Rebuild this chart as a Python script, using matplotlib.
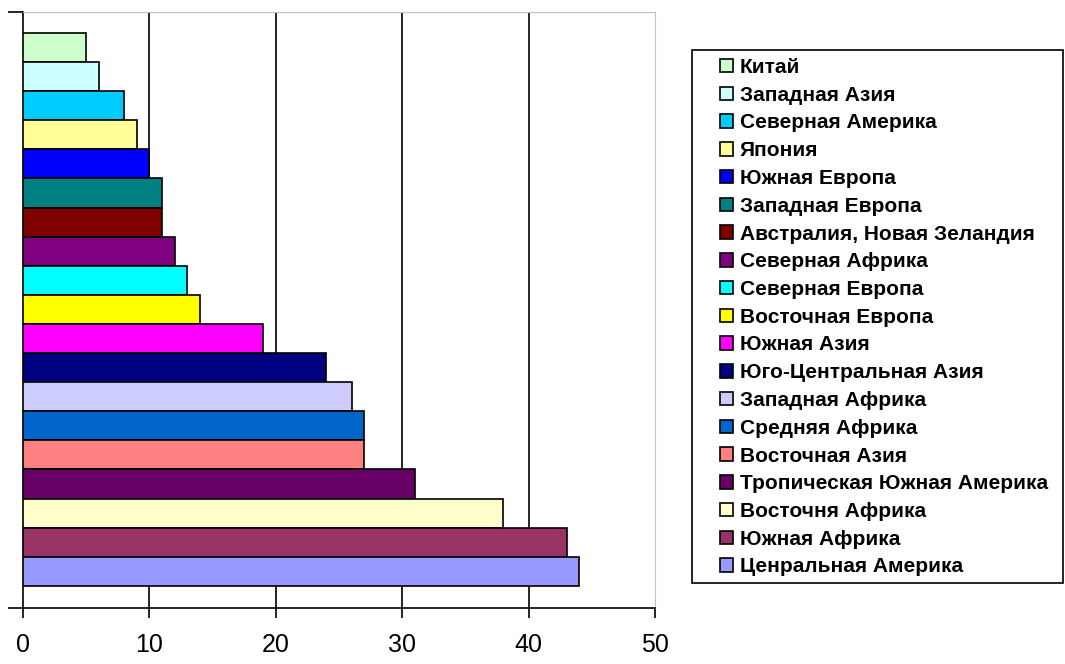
import matplotlib.pyplot as plt
from matplotlib.patches import Patch, Rectangle

plt.rcParams['font.family'] = ['Liberation Sans', 'DejaVu Sans']

# top to bottom, as in the legend
regions = ['Китай', 'Западная Азия', 'Северная Америка', 'Япония', 'Южная Европа',
           'Западная Европа', 'Австралия, Новая Зеландия', 'Северная Африка',
           'Северная Европа', 'Восточная Европа', 'Южная Азия', 'Юго-Центральная Азия',
           'Западная Африка', 'Средняя Африка', 'Восточная Азия',
           'Тропическая Южная Америка', 'Восточня Африка', 'Южная Африка',
           'Ценральная Америка']
values = [5, 6, 8, 9, 10, 11, 11, 12, 13, 14, 19, 24, 26, 27, 27, 31, 38, 43, 44]
colors = ['#CCFFCC', '#CCFFFF', '#00CCFF', '#FFFF99', '#0000FF', '#008080', '#800000',
          '#800080', '#00FFFF', '#FFFF00', '#FF00FF', '#000080', '#CCCCFF', '#0066CC',
          '#FF8080', '#660066', '#FFFFCC', '#993366', '#9999FF']
xticks = [0, 10, 20, 30, 40, 50]

fig = plt.figure(figsize=(10.65, 6.64), dpi=100)
ax = fig.add_axes([23 / 1065, 56 / 664, 632 / 1065, 596 / 664])

n = len(regions)
ypos = [n - 1 - i for i in range(n)]
ax.barh(ypos, values, height=1.0, color=colors, edgecolor='black', linewidth=1.2, zorder=3)

ax.set_xlim(0, 50)
ax.set_ylim(-1.26, n - 1 + 0.5 + 0.72)
ax.set_xticks(xticks)
ax.set_xticklabels([str(t) for t in xticks], fontsize=18)
ax.set_yticks([-1.26, n - 1 + 0.5 + 0.72])
ax.set_yticklabels([])
ax.tick_params(axis='x', direction='out', length=7.2, width=1.2, pad=11)
ax.tick_params(axis='y', direction='out', length=11, width=1.2)
for x in xticks[1:-1]:
    ax.axvline(x, color='black', linewidth=1.2, zorder=1)

ax.spines['left'].set_linewidth(1.2)
ax.spines['bottom'].set_linewidth(1.2)
ax.spines['top'].set_color('#c0c0c0')
ax.spines['right'].set_color('#c0c0c0')

handles = [Patch(facecolor=c, edgecolor='black', linewidth=1.2) for c in colors]
fig.legend(handles, regions, loc='upper left', bbox_to_anchor=(720 / 1065, 1 - 58 / 664),
           prop={'weight': 'bold', 'size': 15}, frameon=False,
           handlelength=0.62, handleheight=0.62, handletextpad=0.33,
           labelspacing=0.42, borderpad=0, borderaxespad=0)
fig.add_artist(Rectangle((692 / 1065, 1 - 583 / 664), 371 / 1065, 533 / 664,
                         transform=fig.transFigure, fill=False, edgecolor='black',
                         linewidth=1.2))

fig.savefig('out.png', dpi=100)
